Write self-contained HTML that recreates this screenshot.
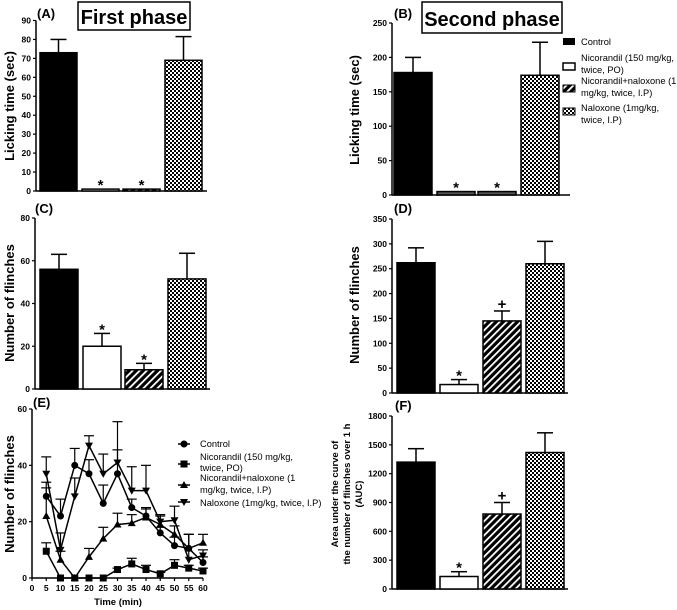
<!DOCTYPE html>
<html><head><meta charset="utf-8">
<style>
body{margin:0;background:#fff;}
svg{display:block;font-family:"Liberation Sans",Arial,sans-serif;}
text{font-weight:bold;fill:#000;}
text.n{font-weight:normal;}
</style></head>
<body>
<svg id="fig" width="677" height="610" viewBox="0 0 677 610" xmlns="http://www.w3.org/2000/svg">
<defs>
<pattern id="hatch" patternUnits="userSpaceOnUse" width="5" height="5" patternTransform="rotate(45)">
<rect width="5" height="5" fill="#000"/><rect x="0" y="0" width="1.8" height="5" fill="#fff"/>
</pattern>
<pattern id="check" patternUnits="userSpaceOnUse" width="4" height="4">
<rect width="4" height="4" fill="#fff"/><rect width="2" height="2" fill="#000"/><rect x="2" y="2" width="2" height="2" fill="#000"/>
</pattern>
</defs>
<g><rect x="78" y="2" width="112" height="28" fill="#fff" stroke="#000" stroke-width="1.5"/><text x="134" y="24" font-size="20" text-anchor="middle">First phase</text></g>
<g><rect x="422" y="2" width="140" height="31" fill="#fff" stroke="#000" stroke-width="1.5"/><text x="492" y="26" font-size="20" text-anchor="middle">Second phase</text></g>
<g>
<rect x="563" y="38" width="12" height="7" fill="#000"/>
<text class="n" x="581" y="45" font-size="9.3">Control</text>
<rect x="563" y="63" width="12" height="7" fill="#fff" stroke="#000" stroke-width="1.5"/>
<text class="n" x="581" y="61" font-size="9.3">Nicorandil (150 mg/kg,</text>
<text class="n" x="581" y="73" font-size="9.3">twice, PO)</text>
<rect x="563" y="85" width="12" height="7" fill="url(#hatch)" stroke="#000"/>
<text class="n" x="581" y="84" font-size="9.3">Nicorandil+naloxone (1</text>
<text class="n" x="581" y="96" font-size="9.3">mg/kg, twice, I.P)</text>
<rect x="563" y="108" width="12" height="7" fill="url(#check)" stroke="#000"/>
<text class="n" x="581" y="111" font-size="9.3">Naloxone (1mg/kg,</text>
<text class="n" x="581" y="123" font-size="9.3">twice, I.P)</text>
</g>
<g>
<circle cx="184" cy="444" r="3.5"/><line x1="178" x2="190" y1="444" y2="444" stroke="#000" stroke-width="1.5"/>
<text class="n" x="200" y="447" font-size="9.3">Control</text>
<rect x="180.5" y="460.5" width="7" height="7"/><line x1="178" x2="190" y1="464" y2="464" stroke="#000" stroke-width="1.5"/>
<text class="n" x="200" y="460" font-size="9.3">Nicorandil (150 mg/kg,</text>
<text class="n" x="200" y="471" font-size="9.3">twice, PO)</text>
<path d="M184,481 l4,7 h-8z"/><line x1="178" x2="190" y1="485" y2="485" stroke="#000" stroke-width="1.5"/>
<text class="n" x="200" y="481" font-size="9.3">Nicorandil+naloxone (1</text>
<text class="n" x="200" y="493" font-size="9.3">mg/kg, twice, I.P)</text>
<path d="M184,506 l4,-7 h-8z"/><line x1="178" x2="190" y1="502" y2="502" stroke="#000" stroke-width="1.5"/>
<text class="n" x="200" y="506" font-size="9.3">Naloxone (1mg/kg, twice, I.P)</text>
</g>
</svg>
<script>
// ---- bar chart data ----
const groups = ["Control","Nicorandil","Nicorandil+naloxone","Naloxone"];
const aValues = [73, 1, 1, 69];
const aErrors = [7, 0, 0, 12.5];
const aMarks = ["", "*", "*", ""];
const aTicks = [0,10,20,30,40,50,60,70,80,90];
const bValues = [178, 5, 5, 174];
const bErrors = [22, 0, 0, 48];
const bMarks = ["", "*", "*", ""];
const bTicks = [0,50,100,150,200,250];
const cValues = [56, 20, 9, 51.5];
const cErrors = [7, 6, 3, 12];
const cMarks = ["", "*", "*", ""];
const cTicks = [0,20,40,60,80];
const dValues = [262, 17, 145, 260];
const dErrors = [30, 10, 20, 45];
const dMarks = ["", "*", "+", ""];
const dTicks = [0,50,100,150,200,250,300,350];
const fValues = [1320, 130, 780, 1420];
const fErrors = [140, 50, 120, 205];
const fMarks = ["", "*", "+", ""];
const fTicks = [0,300,600,900,1200,1500,1800];
// ---- time course data ----
const times = [5,10,15,20,25,30,35,40,45,50,55,60];
const eTicks = [0,5,10,15,20,25,30,35,40,45,50,55,60];
const eYTicks = [0,20,40,60];
const ctrlVals = [29,22,40,37,26.5,37,25,22,16,11.5,10.5,5.5];
const ctrlErr = [5,6,6,5,6.5,8.5,3,3,2,3,5,2];
const nicoVals = [9.5,0,0,0,0,3,5,3,1.5,4.5,3.5,2.5];
const nicoErr = [3,0,0,0,0,0.5,2,1.5,0.5,2,1,1];
const nnVals = [22,6.5,0,7.5,14,19,19.5,21.5,19,15.5,10.5,12.5];
const nnErr = [10,3,0,3,4,4,3,3,3,3,5,3];
const nalVals = [37,10,29,47,37,41,31,31,20,20.5,6.5,8];
const nalErr = [6,6,6.5,3.5,7,14.5,8.5,9,2.5,5,9,2];

const NS="http://www.w3.org/2000/svg";
const svg=document.getElementById('fig');
function mk(tag,attrs,parent){const e=document.createElementNS(NS,tag);for(const k in attrs)e.setAttribute(k,attrs[k]);(parent||svg).appendChild(e);return e;}
const fills=["#000","#fff","url(#hatch)","url(#check)"];

function barChart(name,o){
  const g=mk('g',{});
  
  
  const max=o.ticks[o.ticks.length-1];
  const y=v=>o.y0-(v/max)*(o.y0-o.yTop);
  mk('line',{x1:o.ax,x2:o.ax,y1:o.yTop,y2:o.y0,stroke:'#000','stroke-width':1.5},g);
  mk('line',{x1:o.ax,x2:o.axEnd,y1:o.y0,y2:o.y0,stroke:'#000','stroke-width':1.5},g);
  o.ticks.forEach(t=>{
    mk('line',{x1:o.ax-3,x2:o.ax,y1:y(t),y2:y(t),stroke:'#000','stroke-width':1.2},g);
    const tx=mk('text',{x:o.ax-5,y:y(t)+3,'font-size':8.5,'text-anchor':'end'},g);
    tx.textContent=t;
    
    
  });
  o.values.forEach((v,i)=>{
    const x=o.bx[i],w=o.bw;
    const yt=y(v), ye=y(v+o.errors[i]);
    if(o.errors[i]>0){
      mk('line',{x1:x+w/2,x2:x+w/2,y1:ye,y2:yt,stroke:'#000','stroke-width':1.5},g);
      mk('line',{x1:x+w/2-8,x2:x+w/2+8,y1:ye,y2:ye,stroke:'#000','stroke-width':1.5},g);
    }
    const r=mk('rect',{x:x,y:yt,width:w,height:Math.max(o.y0-yt,1),fill:(v<6&&i>0&&o.thin)?'#555':fills[i],stroke:'#000','stroke-width':1.5},g);
    
    
    if(o.marks[i]){
      const s=mk('text',{x:x+w/2,y:ye+(o.marks[i]==='*'?1:-2),'font-size':15,'text-anchor':'middle'},g);
      s.textContent=o.marks[i];
      
      
    }
  });
  const lb=mk('text',{x:o.lx,y:o.ly,'font-size':o.lfs||13,'text-anchor':'middle',transform:`rotate(-90 ${o.lx} ${o.ly})`},g);
  lb.textContent=o.label;
  
  
  const pl=mk('text',{x:o.px,y:o.py,'font-size':13},g);
  pl.textContent=o.panel;
  
  
}

barChart('chart-a',{values:aValues,errors:aErrors,marks:aMarks,ticks:aTicks,ax:36,axEnd:207,yTop:20.5,y0:191,bx:[40,82,123,165],bw:37,label:'Licking time (sec)',lx:14,ly:106,panel:'(A)',px:37,py:18,thin:false});
barChart('chart-b',{values:bValues,errors:bErrors,marks:bMarks,ticks:bTicks,ax:392,axEnd:570,yTop:23,y0:195,bx:[394,437,478,521],bw:38,label:'Licking time (sec)',lx:359,ly:110,panel:'(B)',px:394,py:18,thin:true});
barChart('chart-c',{values:cValues,errors:cErrors,marks:cMarks,ticks:cTicks,ax:35,axEnd:210,yTop:218,y0:389,bx:[40,83,125,168],bw:38,label:'Number of flinches',lx:14,ly:303,panel:'(C)',px:35,py:213,thin:false});
barChart('chart-d',{values:dValues,errors:dErrors,marks:dMarks,ticks:dTicks,ax:392,axEnd:568,yTop:219,y0:393,bx:[397,440,483,526],bw:38,label:'Number of flinches',lx:359,ly:305,panel:'(D)',px:394,py:213,thin:false});
barChart('chart-f',{values:fValues,errors:fErrors,marks:fMarks,ticks:fTicks,ax:392,axEnd:568,yTop:416,y0:589,bx:[397,440,483,526],bw:38,label:'the number of flinches over 1 h',lx:350,ly:494,lfs:9.5,panel:'(F)',px:395,py:410,thin:false});
{
  const t1=mk('text',{x:338,y:494,'font-size':9.5,'text-anchor':'middle',transform:'rotate(-90 338 494)'});
  t1.textContent='Area under the curve of';
  
  
  const t3=mk('text',{x:362,y:494,'font-size':9.5,'text-anchor':'middle',transform:'rotate(-90 362 494)'});
  t3.textContent='(AUC)';
  
  
}

// ---- panel E line chart ----
(function(){
  const g=mk('g',{});
  
  
  const x0=32,x1=203,yTop=409,y0=578;
  const X=t=>x0+(t/60)*(x1-x0);
  const Y=v=>y0-(v/60)*(y0-yTop);
  mk('line',{x1:x0,x2:x0,y1:yTop,y2:y0,stroke:'#000','stroke-width':1.5},g);
  mk('line',{x1:x0,x2:x1,y1:y0,y2:y0,stroke:'#000','stroke-width':1.5},g);
  eYTicks.forEach(t=>{
    mk('line',{x1:x0-3,x2:x0,y1:Y(t),y2:Y(t),stroke:'#000','stroke-width':1.2},g);
    const tx=mk('text',{x:x0-5,y:Y(t)+3,'font-size':8.5,'text-anchor':'end'},g);
    tx.textContent=t;
    
    
  });
  eTicks.forEach(t=>{
    mk('line',{x1:X(t),x2:X(t),y1:y0,y2:y0+3,stroke:'#000','stroke-width':1.2},g);
    const tx=mk('text',{x:X(t),y:y0+13,'font-size':8.5,'text-anchor':'middle'},g);
    tx.textContent=t;
    
    
  });
  const series=[[ctrlVals,ctrlErr,'circle','series-control'],[nicoVals,nicoErr,'square','series-nicorandil'],[nnVals,nnErr,'up','series-nicorandil-naloxone'],[nalVals,nalErr,'down','series-naloxone']];
  series.forEach(([vals,errs,shape,nm])=>{
    const sg=mk('g',{},g);
    
    
    vals.forEach((v,i)=>{
      if(errs[i]>0){
        const xx=X(times[i]);
        mk('line',{x1:xx,x2:xx,y1:Y(v),y2:Y(v+errs[i]),stroke:'#000','stroke-width':1.2},sg);
        mk('line',{x1:xx-5,x2:xx+5,y1:Y(v+errs[i]),y2:Y(v+errs[i]),stroke:'#000','stroke-width':1.2},sg);
      }
    });
    mk('polyline',{points:vals.map((v,i)=>X(times[i])+','+Y(v)).join(' '),fill:'none',stroke:'#000','stroke-width':1.5},sg);
    vals.forEach((v,i)=>{
      const cx=X(times[i]),cy=Y(v);let m;
      if(shape==='circle')m=mk('circle',{cx:cx,cy:cy,r:3.5},sg);
      else if(shape==='square')m=mk('rect',{x:cx-3.5,y:cy-3.5,width:7,height:7},sg);
      else if(shape==='up')m=mk('path',{d:`M${cx},${cy-4} l4,7 h-8z`},sg);
      else m=mk('path',{d:`M${cx},${cy+4} l4,-7 h-8z`},sg);
      
      
    });
  });
  const lb=mk('text',{x:14,y:494,'font-size':13,'text-anchor':'middle',transform:'rotate(-90 14 494)'},g);
  lb.textContent='Number of flinches';
  
  
  const xl=mk('text',{x:118,y:605,'font-size':9.5,'text-anchor':'middle'},g);
  xl.textContent='Time (min)';
  
  
  const pl=mk('text',{x:33,y:407,'font-size':13},g);
  pl.textContent='(E)';
  
  
})();
</script>
</body></html>
